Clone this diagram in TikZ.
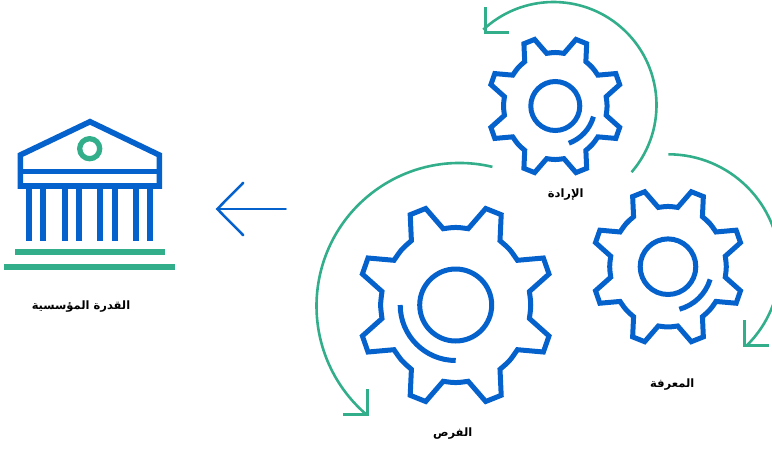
\documentclass[tikz,border=0pt]{standalone}
\usepackage{fontspec}
\TeXXeTstate=1
\newfontfamily\arabicfont[Script=Arabic]{DejaVu Sans}
\definecolor{gearblue}{RGB}{5,98,204}
\definecolor{teal}{RGB}{51,174,138}
\tikzset{
  gearline/.style={draw=gearblue,line width=5pt,line join=miter,line cap=butt},
  cycle/.style={draw=teal,line width=2.6pt},
  cyclehead/.style={draw=teal,line width=3pt,line join=miter},
  lbl/.style={font=\arabicfont\bfseries\fontsize{11.5}{13}\selectfont,text=black,inner sep=0pt},
}
\newcommand{\gearshape}[5]{%
\begin{scope}[shift={(#1,#2)},scale=#3]
\draw[gearline] (-12.5,76.3) .. controls (0,78) .. (12.5,76.3) -- (30,96.5) -- (45.5,90.3) -- (44.3,64.3)
 .. controls (54,56) .. (61.7,44.7) -- (87.7,47) -- (93.3,31) -- (73.7,13.5)
 .. controls (75.5,0) .. (73.7,-13.5) -- (93.3,-31) -- (87.7,-47) -- (61.7,-44.7)
 .. controls (54,-56) .. (44.3,-64.3) -- (45.5,-90.3) -- (30,-96.5) -- (12.5,-76.3)
 .. controls (0,-78) .. (-12.5,-76.3) -- (-30,-96.5) -- (-45.5,-90.3) -- (-44.3,-64.3)
 .. controls (-54,-56) .. (-61.7,-44.7) -- (-87.7,-47) -- (-93.3,-31) -- (-73.7,-13.5)
 .. controls (-75.5,0) .. (-73.7,13.5) -- (-93.3,31) -- (-87.7,47) -- (-61.7,44.7)
 .. controls (-54,56) .. (-44.3,64.3) -- (-45.5,90.3) -- (-30,96.5) -- cycle;
\end{scope}
\draw[gearline] (#1,#2) circle[radius=#4];
\draw[gearline] #5;
}
\begin{document}
\begin{tikzpicture}[x=1pt,y=1pt]
\clip (0,0) rectangle (772,-448);
\useasboundingbox (0,0) rectangle (772,-448);
% building
\draw[gearline,line width=5.6pt] (20.3,-186) -- (20.3,-155) -- (90,-121.7) -- (159.3,-155) -- (159.3,-186) -- cycle;
\draw[gearline] (20.3,-171.3) -- (159.3,-171.3);
\foreach \cx in {29.3,43.3,64.7,79,100.3,114.7,136,150.3}
  \draw[gearline,line width=6pt] (\cx,-186) -- (\cx,-241.3);
\draw[draw=teal,line width=5.3pt] (89.7,-148.7) circle[radius=10];
\draw[draw=teal,line width=6.6pt] (15,-252) -- (164.7,-252);
\draw[draw=teal,line width=6.6pt] (4,-267) -- (175.3,-267);
% arrow
\draw[gearline,line width=2.5pt,line cap=round,line join=miter] (243.3,-182.7) -- (217.3,-209) -- (243.3,-235.3);
\draw[gearline,line width=2.5pt,line cap=round] (217.3,-209) -- (285.7,-209);
% gears
\gearshape{555.3}{-106}{0.69}{24.5}{(555.3,-106) ++(-15.6:39.6) arc[start angle=-15.6,end angle=-70,radius=39.6]}
\gearshape{668}{-266.7}{0.777}{27.8}{(668,-266.7) ++(-16.8:44) arc[start angle=-16.8,end angle=-75,radius=44]}
\gearshape{455.7}{-305}{1}{36}{(455.7,-305) ++(180:55.5) arc[start angle=180,end angle=270,radius=55.5]}
% cycle arrows
\draw[cycle] (553.5,-105) ++(-40.7:103) arc[start angle=-40.7,end angle=133,radius=103];
\draw[cyclehead] (485,-7.3) -- (485,-32.3) -- (509.3,-32.3);
\draw[cycle] (668.3,-266) ++(90:111.7) arc[start angle=90,end angle=-45.5,radius=111.7];
\draw[cyclehead] (744.3,-320) -- (744.3,-345.7) -- (769,-345.7);
\draw[cycle] (459.5,-306) ++(76.7:143) arc[start angle=76.7,end angle=229.2,radius=143];
\draw[cyclehead] (367.3,-389) -- (367.3,-414) -- (342.7,-414);
% labels
\node[lbl] (inst) at (81,-307) {\beginR القدرة المؤسسية\endR};
\node[lbl] (will) at (565.7,-194.3) {\beginR الإرادة\endR};
\node[lbl] (know) at (672.3,-384.3) {\beginR المعرفة\endR};
\node[lbl] (opp) at (452.7,-433.3) {\beginR الفرص\endR};
\end{tikzpicture}
\end{document}
